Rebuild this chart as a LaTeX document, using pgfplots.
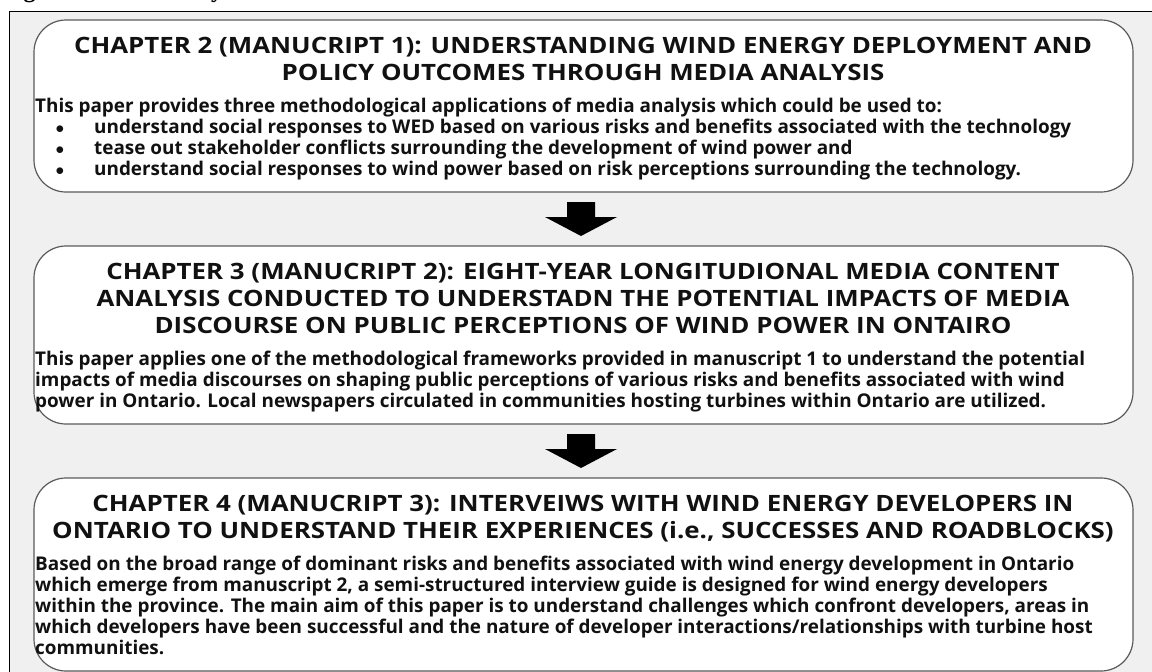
\documentclass[border=0pt]{standalone}
\usepackage{fontspec}
\setmainfont{Open Sans}
\newfontfamily\capfont{Liberation Serif}
\newfontfamily\titlefam{Open Sans}[FakeStretch=1.15]
\usepackage{pgfplots}
\pgfplotsset{compat=1.18}
\definecolor{bg}{HTML}{F0F0F0}
\definecolor{edge}{HTML}{5A5A5A}
\definecolor{ink}{HTML}{111111}
\newcommand\tf{\titlefam\fontsize{22.5}{27}\selectfont\bfseries}
\newcommand\bodyf{\fontsize{18.9}{21}\selectfont\bfseries}
\begin{document}
\begin{tikzpicture}
\begin{axis}[width=1152pt,height=672pt,scale only axis,xmin=0,xmax=1152,ymin=0,ymax=672,
  y dir=reverse,hide axis,clip=false]
\coordinate (TL) at (axis cs:0,0);
\coordinate (BR) at (axis cs:1152,672);
% caption (cut off at top)
\node[anchor=base west,font=\capfont\bfseries\fontsize{24}{28}\selectfont,inner sep=0] at (axis cs:2,-2.5) {Figure 1.5: Summary of thesis structure};
% outer frame
\addplot[draw=black,line width=1pt,fill=bg] coordinates {(9.5,11) (1175,11) (1175,690) (9.5,690)} -- cycle;
% boxes
\addplot[draw=edge,line width=1.2pt,fill=white,rounded corners=32pt] coordinates {(583,20) (1133,20) (1133,192) (34,192) (34,20)} -- cycle;
\addplot[draw=edge,line width=1.2pt,fill=white,rounded corners=32pt] coordinates {(583,246) (1133,246) (1133,424) (34,424) (34,246)} -- cycle;
\addplot[draw=edge,line width=1.2pt,fill=white,rounded corners=32pt] coordinates {(583,478) (1133,478) (1133,671) (34,671) (34,478)} -- cycle;
% arrows
\addplot[fill=black,draw=none] coordinates {(567,202) (595,202) (595,217) (617,217) (581,236) (545,217) (567,217)} -- cycle;
\addplot[fill=black,draw=none] coordinates {(567,434) (595,434) (595,449) (617,449) (581,468) (545,449) (567,449)} -- cycle;
\begin{scope}[every node/.style={inner sep=0,text=ink}]
% box 1 text
\node[anchor=base,font=\tf] at (axis cs:583,53) {CHAPTER 2 (MANUCRIPT 1): UNDERSTANDING WIND ENERGY DEPLOYMENT AND};
\node[anchor=base,font=\tf] at (axis cs:583,80) {POLICY OUTCOMES THROUGH MEDIA ANALYSIS};
\node[anchor=base west,font=\bodyf] at (axis cs:35,112) {This paper provides three methodological applications of media analysis which could be used to:};
\node[anchor=base,font=\bodyf] at (axis cs:60,133) {$\bullet$};
\node[anchor=base,font=\bodyf] at (axis cs:60,154) {$\bullet$};
\node[anchor=base,font=\bodyf] at (axis cs:60,175) {$\bullet$};
\node[anchor=base west,font=\bodyf] at (axis cs:94,133) {understand social responses to WED based on various risks and benefits associated with the technology};
\node[anchor=base west,font=\bodyf] at (axis cs:94,154) {tease out stakeholder conflicts surrounding the development of wind power and};
\node[anchor=base west,font=\bodyf] at (axis cs:94,175) {understand social responses to wind power based on risk perceptions surrounding the technology.};
% box 2 text
\node[anchor=base,font=\tf] at (axis cs:583,279) {CHAPTER 3 (MANUCRIPT 2): EIGHT-YEAR LONGITUDIONAL MEDIA CONTENT};
\node[anchor=base,font=\tf] at (axis cs:583,306) {ANALYSIS CONDUCTED TO UNDERSTADN THE POTENTIAL IMPACTS OF MEDIA};
\node[anchor=base,font=\tf] at (axis cs:583,333) {DISCOURSE ON PUBLIC PERCEPTIONS OF WIND POWER IN ONTAIRO};
\node[anchor=base west,font=\bodyf] at (axis cs:35,365) {This paper applies one of the methodological frameworks provided in manuscript 1 to understand the potential};
\node[anchor=base west,font=\bodyf] at (axis cs:35,386) {impacts of media discourses on shaping public perceptions of various risks and benefits associated with wind};
\node[anchor=base west,font=\bodyf] at (axis cs:35,407) {power in Ontario. Local newspapers circulated in communities hosting turbines within Ontario are utilized.};
% box 3 text
\node[anchor=base,font=\tf] at (axis cs:583,511) {CHAPTER 4 (MANUCRIPT 3): INTERVEIWS WITH WIND ENERGY DEVELOPERS IN};
\node[anchor=base,font=\tf] at (axis cs:583,538) {ONTARIO TO UNDERSTAND THEIR EXPERIENCES (i.e., SUCCESSES AND ROADBLOCKS)};
\node[anchor=base west,font=\bodyf] at (axis cs:35,570) {Based on the broad range of dominant risks and benefits associated with wind energy development in Ontario};
\node[anchor=base west,font=\bodyf] at (axis cs:35,591) {which emerge from manuscript 2, a semi-structured interview guide is designed for wind energy developers};
\node[anchor=base west,font=\bodyf] at (axis cs:35,612) {within the province. The main aim of this paper is to understand challenges which confront developers, areas in};
\node[anchor=base west,font=\bodyf] at (axis cs:35,633) {which developers have been successful and the nature of developer interactions/relationships with turbine host};
\node[anchor=base west,font=\bodyf] at (axis cs:35,654) {communities.};
\end{scope}
\end{axis}
\pgfresetboundingbox
\path[use as bounding box] (TL) rectangle (BR);
\end{tikzpicture}
\end{document}
